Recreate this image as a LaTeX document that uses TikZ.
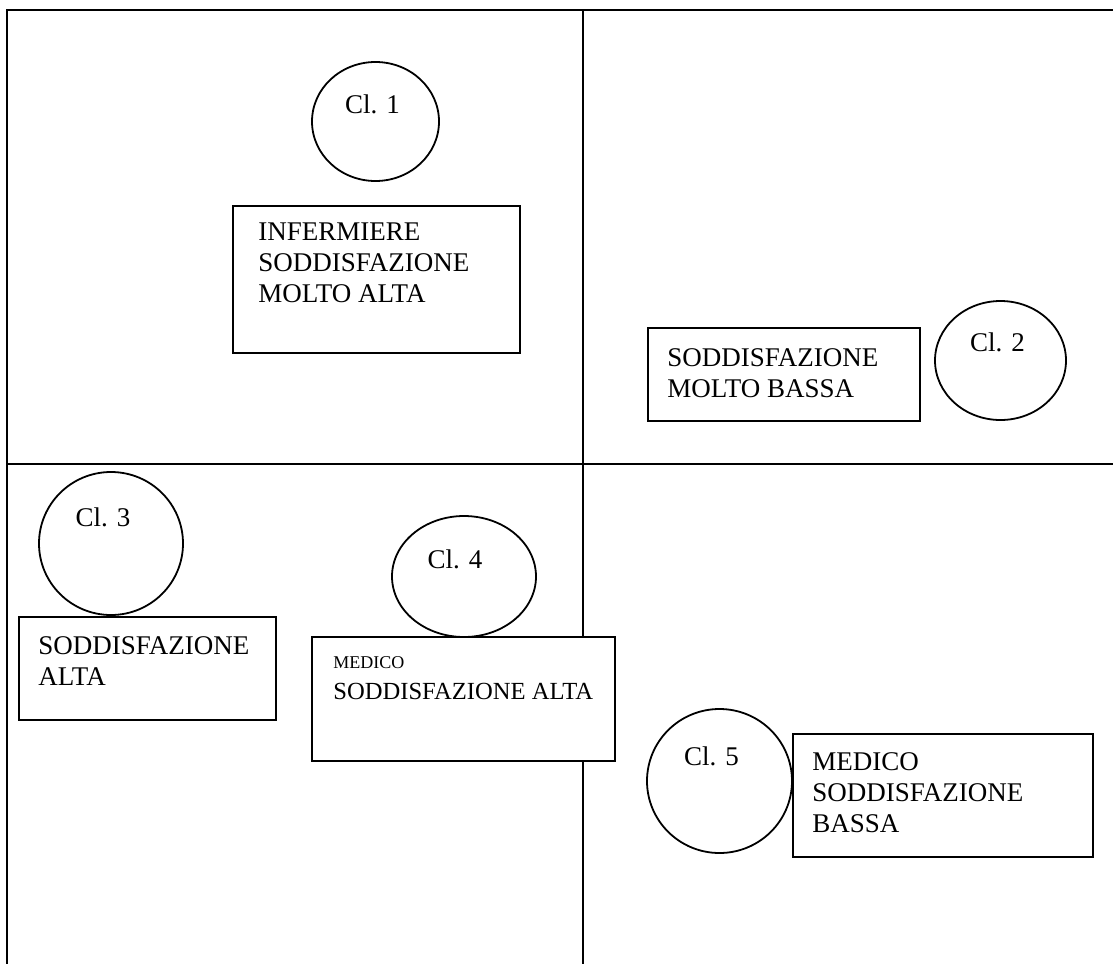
\documentclass[tikz,border=0pt]{standalone}
\usepackage{fontspec}
\setmainfont{Liberation Serif}
\usetikzlibrary{positioning,shapes.geometric}

\begin{document}
\begin{tikzpicture}[x=0.5pt,y=-0.5pt,
   box/.style={draw, fill=white, line width=0.9pt, rectangle, anchor=north west, inner sep=0},
   clu/.style={draw, fill=white, line width=0.9pt, ellipse, inner sep=0},
   txt/.style={inner sep=0, align=left, font=\fontsize{13.5}{15.5}\selectfont},
   lbl/.style={inner sep=0, font=\fontsize{13.5}{15}\selectfont}]
   \useasboundingbox (0,0) rectangle (1113,964);

   \draw[line width=0.9pt] (1113,10) -- (7,10) -- (7,964);
   \draw[line width=0.9pt] (583,10) -- (583,964);
   \draw[line width=0.9pt] (7,464) -- (1113,464);

   \node[clu, minimum width=63.5pt, minimum height=59.5pt] (c1) at (375.5,121.5) {};
   \node[lbl, below=16.5pt of c1.north, xshift=-1.5pt] (l1) {Cl. 1};
   \node[box, minimum width=143.5pt, minimum height=73.5pt] (b1) at (232,205) {};
   \node[txt, below right=8.5pt and 13pt of b1.north west] (t1) {INFERMIERE\\SODDISFAZIONE\\MOLTO ALTA};

   \node[box, minimum width=136pt, minimum height=46.5pt] (b2) at (647,327) {};
   \node[txt, below right=10.5pt and 10pt of b2.north west] (t2) {SODDISFAZIONE\\MOLTO BASSA};
   \node[clu, minimum width=65.5pt, minimum height=59.5pt] (c2) at (1000.5,360.5) {};
   \node[lbl, below=16pt of c2.north, xshift=-1.5pt] (l2) {Cl. 2};

   \node[clu, minimum width=72pt, minimum height=71.5pt] (c3) at (111,543.5) {};
   \node[lbl, below=18pt of c3.north, xshift=-4pt] (l3) {Cl. 3};
   \node[box, minimum width=128.5pt, minimum height=51.5pt] (b3) at (18,616) {};
   \node[txt, below right=10pt and 10pt of b3.north west] (t3) {SODDISFAZIONE\\ALTA};

   \node[clu, minimum width=72pt, minimum height=60.5pt] (c4) at (464,576.5) {};
   \node[lbl, below=17pt of c4.north, xshift=-4.5pt] (l4) {Cl. 4};
   \node[box, minimum width=151.5pt, minimum height=62pt] (b4) at (311,636) {};
   \node[txt, below right=10pt and 11pt of b4.north west] (t4) {\fontsize{9}{14}\selectfont MEDICO\\\fontsize{12.3}{14}\selectfont SODDISFAZIONE ALTA};

   \node[clu, minimum width=72.5pt, minimum height=72pt] (c5) at (719.5,781) {};
   \node[lbl, below=19pt of c5.north, xshift=-4pt] (l5) {Cl. 5};
   \node[box, minimum width=150pt, minimum height=61.5pt] (b5) at (792,733) {};
   \node[txt, below right=9.5pt and 10pt of b5.north west] (t5) {MEDICO\\SODDISFAZIONE\\BASSA};
\end{tikzpicture}
\end{document}
